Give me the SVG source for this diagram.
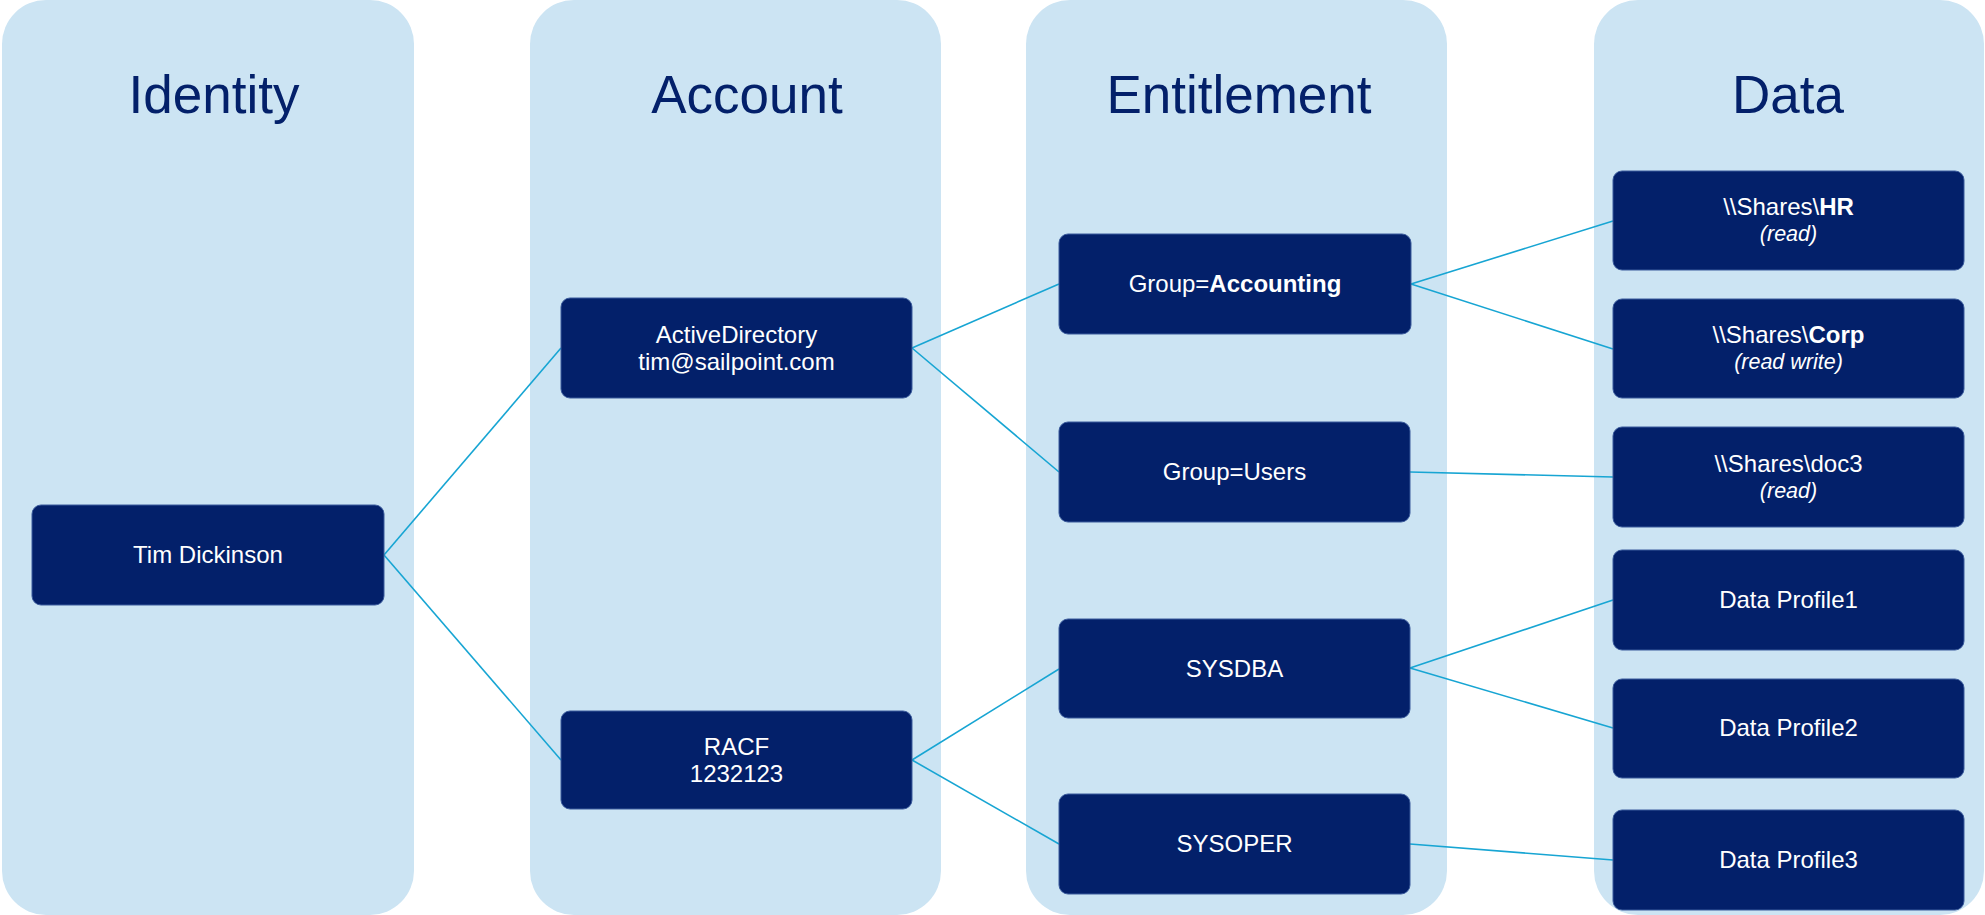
<svg xmlns="http://www.w3.org/2000/svg" width="1985" height="915" viewBox="0 0 1985 915">
<style>
.col{fill:#cce4f3}
.title{font-family:"Liberation Sans",Arial,sans-serif;font-size:53px;fill:#03206a;text-anchor:middle}
.node{fill:#03206a;stroke:#3a5a9c;stroke-width:1}
.t{font-family:"Liberation Sans",Arial,sans-serif;font-size:24px;fill:#ffffff;text-anchor:middle}
.s{font-size:21.5px;font-style:italic}
.b{font-weight:bold}
.conn line{stroke:#17a5d3;stroke-width:1.6}
</style>
<rect width="1985" height="915" fill="#ffffff"/>
<g id="columns">
<rect class="col" x="2" y="0" width="412" height="915" rx="44"/>
<rect class="col" x="530" y="0" width="411" height="915" rx="44"/>
<rect class="col" x="1026" y="0" width="421" height="915" rx="44"/>
<rect class="col" x="1594" y="0" width="390" height="915" rx="44"/>
</g>
<g id="titles">
<text class="title" x="214" y="113">Identity</text>
<text class="title" x="747" y="113">Account</text>
<text class="title" x="1239" y="113">Entitlement</text>
<text class="title" x="1788" y="113">Data</text>
</g>
<g class="conn" id="connectors">
<line x1="384" y1="555" x2="561" y2="348"/>
<line x1="384" y1="555" x2="561" y2="760"/>
<line x1="912" y1="348" x2="1059" y2="284"/>
<line x1="912" y1="348" x2="1059" y2="472"/>
<line x1="912" y1="760" x2="1059" y2="669"/>
<line x1="912" y1="760" x2="1059" y2="844"/>
<line x1="1411" y1="284" x2="1613" y2="221"/>
<line x1="1411" y1="284" x2="1613" y2="349"/>
<line x1="1410" y1="472" x2="1613" y2="477"/>
<line x1="1410" y1="668" x2="1613" y2="600"/>
<line x1="1410" y1="668" x2="1613" y2="728"/>
<line x1="1410" y1="844" x2="1613" y2="860"/>
</g>
<g id="n-tim"><rect class="node" x="32" y="505" width="352" height="100" rx="9"/><text class="t" x="208" y="563">Tim Dickinson</text></g>
<g id="n-ad"><rect class="node" x="561" y="298" width="351" height="100" rx="9"/><text class="t" x="736.5" y="343">ActiveDirectory</text><text class="t" x="736.5" y="370">tim@sailpoint.com</text></g>
<g id="n-racf"><rect class="node" x="561" y="711" width="351" height="98" rx="9"/><text class="t" x="736.5" y="755">RACF</text><text class="t" x="736.5" y="782">1232123</text></g>
<g id="n-accounting"><rect class="node" x="1059" y="234" width="352" height="100" rx="9"/><text class="t" x="1235" y="292">Group=<tspan class="b">Accounting</tspan></text></g>
<g id="n-users"><rect class="node" x="1059" y="422" width="351" height="100" rx="9"/><text class="t" x="1234.5" y="480">Group=Users</text></g>
<g id="n-sysdba"><rect class="node" x="1059" y="619" width="351" height="99" rx="9"/><text class="t" x="1234.5" y="677">SYSDBA</text></g>
<g id="n-sysoper"><rect class="node" x="1059" y="794" width="351" height="100" rx="9"/><text class="t" x="1234.5" y="852">SYSOPER</text></g>
<g id="n-hr"><rect class="node" x="1613" y="171" width="351" height="99" rx="9"/><text class="t" x="1788.5" y="215">\\Shares\<tspan class="b">HR</tspan></text><text class="t s" x="1788.5" y="241">(read)</text></g>
<g id="n-corp"><rect class="node" x="1613" y="299" width="351" height="99" rx="9"/><text class="t" x="1788.5" y="343">\\Shares\<tspan class="b">Corp</tspan></text><text class="t s" x="1788.5" y="369">(read write)</text></g>
<g id="n-doc3"><rect class="node" x="1613" y="427" width="351" height="100" rx="9"/><text class="t" x="1788.5" y="472">\\Shares\doc3</text><text class="t s" x="1788.5" y="498">(read)</text></g>
<g id="n-dp1"><rect class="node" x="1613" y="550" width="351" height="100" rx="9"/><text class="t" x="1788.5" y="608">Data Profile1</text></g>
<g id="n-dp2"><rect class="node" x="1613" y="679" width="351" height="99" rx="9"/><text class="t" x="1788.5" y="736">Data Profile2</text></g>
<g id="n-dp3"><rect class="node" x="1613" y="810" width="351" height="100" rx="9"/><text class="t" x="1788.5" y="868">Data Profile3</text></g>
</svg>
